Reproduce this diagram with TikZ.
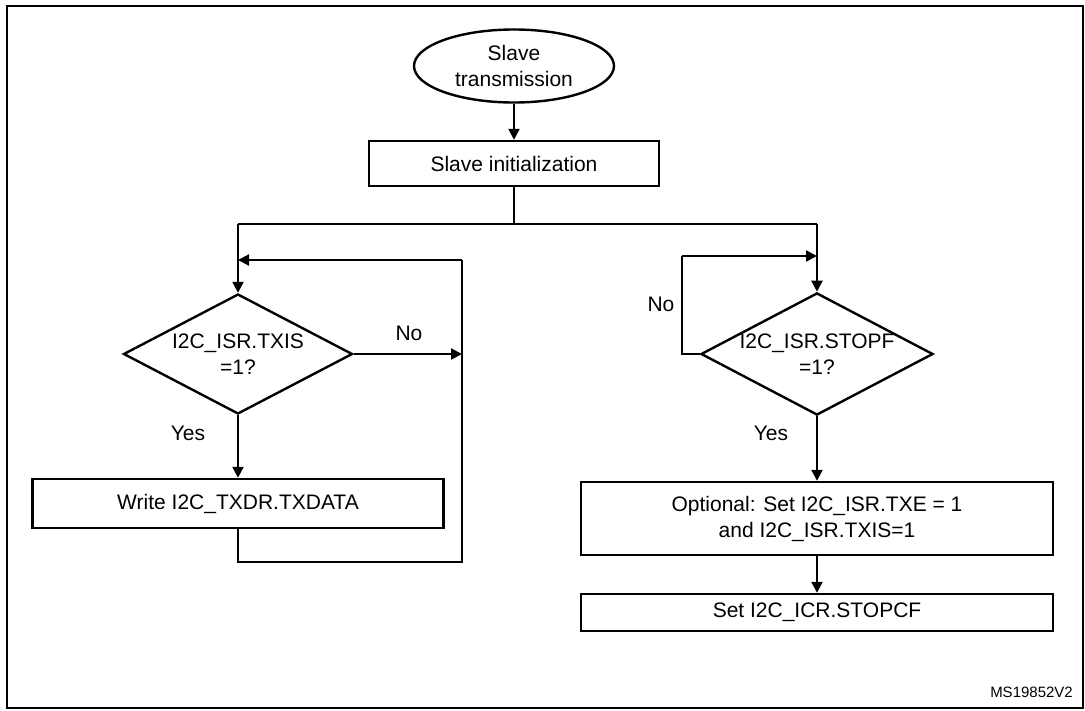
\documentclass[tikz,border=0pt]{standalone}
\usepackage{fontspec}
\setmainfont{Liberation Sans}
\usetikzlibrary{shapes.geometric,arrows.meta}
\begin{document}
\begin{tikzpicture}[x=1pt,y=-1pt,
  every node/.style={font=\fontsize{21}{26}\selectfont},
  proc/.style={draw,line width=2.4pt,minimum width=#1,minimum height=0pt,inner sep=0pt,align=center},
  dec/.style={draw,diamond,line width=2.4pt,inner sep=0pt,align=center,aspect=1.9},
  ln/.style={line width=2.2pt},
  arr/.style={line width=2.2pt,-{Triangle[length=11pt,width=11pt]}},
  lbl/.style={inner sep=0pt}]
\useasboundingbox (0,0) rectangle (1085,710);
\draw[line width=2.2pt] (7,6) rectangle (1083,708);
\node[draw,ellipse,line width=2.4pt,minimum width=200pt,minimum height=73pt,inner sep=0pt,align=center] (start) at (514,66) {Slave\\transmission};
\node[proc=290pt,minimum height=45pt] (init) at (514,163.5) {Slave initialization};
\node[dec,minimum width=229pt,minimum height=120pt] (d1) at (238,354) {I2C\_ISR.TXIS\\=1?};
\node[dec,minimum width=230pt,minimum height=120pt] (d2) at (817,354) {I2C\_ISR.STOPF\\=1?};
\node[proc=411pt,minimum height=49pt] (w) at (238,503.5) {Write I2C\_TXDR.TXDATA};
\node[proc=472pt,minimum height=73pt] (opt) at (817,518.5) {Optional: Set I2C\_ISR.TXE = 1\\and I2C\_ISR.TXIS=1};
\node[proc=472pt,minimum height=37pt] (stop) at (817,612.5) {Set I2C\_ICR.STOPCF};
\coordinate (split) at (514,224);
\coordinate (sl) at (238,224);
\coordinate (sr) at (817,224);
\coordinate (ljoin) at (238,260);
\coordinate (ltr) at (462,260);
\coordinate (lmid) at (462,354);
\coordinate (lbr) at (462,562);
\coordinate (lbl) at (238,562);
\coordinate (rjoin) at (817,256);
\coordinate (rtl) at (682,256);
\coordinate (rml) at (682,354);
\draw[arr] (start) -- (init);
\draw[ln] (init) -- (split);
\draw[ln] (sl) -- (sr);
\draw[arr] (sl) -- (d1.north);
\draw[arr] (sr) -- (d2.north);
\draw[arr] (d1.east) -- (lmid);
\draw[arr] (d1.south) -- (w.north);
\draw[ln] (w.south) -- (lbl) -- (lbr) -- (ltr);
\draw[arr] (ltr) -- (ljoin);
\draw[ln] (d2.west) -- (rml) -- (rtl);
\draw[arr] (rtl) -- (rjoin);
\draw[arr] (d2.south) -- (opt.north);
\draw[arr] (opt.south) -- (stop.north);
\node[lbl] (no1) at (409,333) {No};
\node[lbl] (yes1) at (188,433) {Yes};
\node[lbl] (no2) at (661,304) {No};
\node[lbl] (yes2) at (771,433) {Yes};
\node[lbl,anchor=east,font=\fontsize{15}{18}\selectfont] (id) at (1073,692) {MS19852V2};
\end{tikzpicture}
\end{document}
